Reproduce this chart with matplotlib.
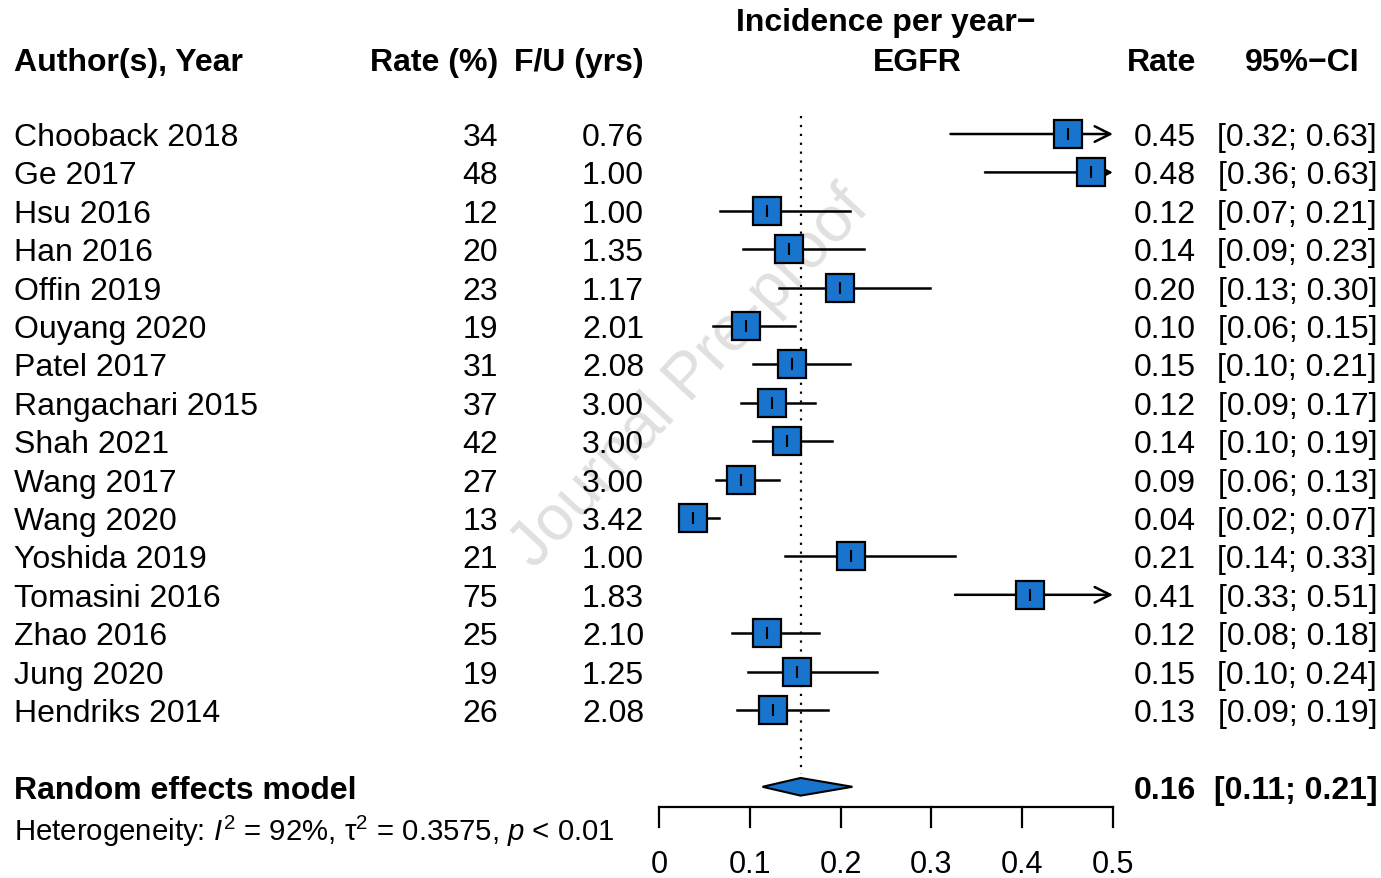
import matplotlib
matplotlib.use("Agg")
import matplotlib.pyplot as plt
import matplotlib.transforms as mtransforms

plt.rcParams['font.family'] = 'Liberation Sans'
plt.rcParams['mathtext.fontset'] = 'custom'
plt.rcParams['mathtext.rm'] = 'Liberation Sans'
plt.rcParams['mathtext.it'] = 'Liberation Sans:italic'

# study data
studies = ['Chooback 2018', 'Ge 2017', 'Hsu 2016', 'Han 2016', 'Offin 2019',
           'Ouyang 2020', 'Patel 2017', 'Rangachari 2015', 'Shah 2021',
           'Wang 2017', 'Wang 2020', 'Yoshida 2019', 'Tomasini 2016',
           'Zhao 2016', 'Jung 2020', 'Hendriks 2014']
rate_pct = [34, 48, 12, 20, 23, 19, 31, 37, 42, 27, 13, 21, 75, 25, 19, 26]
followup = [0.76, 1.00, 1.00, 1.35, 1.17, 2.01, 2.08, 3.00, 3.00, 3.00,
            3.42, 1.00, 1.83, 2.10, 1.25, 2.08]
rate = [0.450, 0.476, 0.119, 0.143, 0.199, 0.096, 0.147, 0.124, 0.141, 0.090,
        0.037, 0.211, 0.409, 0.119, 0.152, 0.126]
ci_low = [0.321, 0.359, 0.067, 0.092, 0.132, 0.060, 0.103, 0.090, 0.104, 0.063,
          0.022, 0.139, 0.326, 0.080, 0.098, 0.086]
ci_up = [0.63, 0.63, 0.21, 0.226, 0.298, 0.15, 0.21, 0.172, 0.19, 0.132,
         0.066, 0.326, 0.51, 0.176, 0.24, 0.186]

pooled = 0.156
pooled_low = 0.114
pooled_up = 0.213
het_text = r'Heterogeneity: $I^2$ = 92%, τ$^2$ = 0.3575, $p$ < 0.01'

xticks = [0, 0.1, 0.2, 0.3, 0.4, 0.5]
xmax = 0.5

box_col = '#1874CD'
fs = 23
dy = 0.08  # text sits a little low in the R output

W, H = 1381, 879
fig = plt.figure(figsize=(W / 100, H / 100), dpi=100)
# forest panel; y runs in row units over the whole figure height
ax = fig.add_axes([659 / W, 0, 454 / W, 1])
ax.set_xlim(0, xmax)
ax.set_ylim(19.375, -3.516)
ax.axis('off')

# column positions in figure fraction, y in row units
tr = mtransforms.blended_transform_factory(fig.transFigure, ax.transData)
x_author = 14 / W
x_pct = 498 / W
x_fu = 644 / W
x_rate = 1196 / W
x_ci = 1377 / W

# watermark
fig.text(690 / W, 1 - 378 / H, 'Journal Pre-proof', rotation=47, fontsize=46,
         color='#e0e0e0', ha='center', va='center', zorder=-5)

# headers
hy = -1.95 + dy
ax.text(x_author, hy, 'Author(s), Year', transform=tr, ha='left', va='center', fontsize=fs, fontweight='bold')
ax.text(x_pct, hy, 'Rate (%)', transform=tr, ha='right', va='center', fontsize=fs, fontweight='bold')
ax.text(x_fu, hy, 'F/U (yrs)', transform=tr, ha='right', va='center', fontsize=fs, fontweight='bold')
ax.text(886 / W, -3.0 + dy, 'Incidence per year\u2212', transform=tr, ha='center', va='center', fontsize=fs, fontweight='bold')
ax.text(917 / W, hy, 'EGFR', transform=tr, ha='center', va='center', fontsize=fs, fontweight='bold')
ax.text(x_rate, hy, 'Rate', transform=tr, ha='right', va='center', fontsize=fs, fontweight='bold')
ax.text(1360 / W, hy, '95%\u2212CI', transform=tr, ha='right', va='center', fontsize=fs, fontweight='bold')

for i in range(len(studies)):
    ty = i + dy
    ax.text(x_author, ty, studies[i], transform=tr, ha='left', va='center', fontsize=fs)
    ax.text(x_pct, ty, str(rate_pct[i]), transform=tr, ha='right', va='center', fontsize=fs)
    ax.text(x_fu, ty, '%.2f' % followup[i], transform=tr, ha='right', va='center', fontsize=fs)
    ax.text(x_rate, ty, '%.2f' % rate[i], transform=tr, ha='right', va='center', fontsize=fs)
    ax.text(x_ci, ty, '[%.2f; %.2f]' % (ci_low[i], ci_up[i]), transform=tr, ha='right', va='center', fontsize=fs)

    if ci_up[i] > xmax:
        ax.annotate('', xy=(xmax, i), xytext=(ci_low[i], i),
                    arrowprops=dict(arrowstyle='->', lw=1.8, color='k', mutation_scale=28,
                                    shrinkA=0, shrinkB=0), zorder=2)
    else:
        ax.plot([ci_low[i], ci_up[i]], [i, i], color='k', lw=1.8, zorder=2)
    ax.plot(rate[i], i, marker='s', markersize=20.5, markerfacecolor=box_col,
            markeredgecolor='k', markeredgewidth=1.6, zorder=3)
    ax.plot(rate[i], i, marker='|', markersize=9, color='k', markeredgewidth=1.5, zorder=4)

# pooled estimate
ry = 17.0
ax.text(x_author, ry + dy, 'Random effects model', transform=tr, ha='left', va='center', fontsize=fs, fontweight='bold')
ax.text(x_rate, ry + dy, '%.2f' % pooled, transform=tr, ha='right', va='center', fontsize=fs, fontweight='bold')
ax.text(x_ci, ry + dy, '[%.2f; %.2f]' % (pooled_low, pooled_up), transform=tr, ha='right', va='center',
        fontsize=fs, fontweight='bold')
ax.fill([pooled_low, pooled, pooled_up, pooled], [ry, ry - 0.23, ry, ry + 0.23],
        facecolor=box_col, edgecolor='k', lw=1.5, zorder=3)
ax.text(x_author, 18.05 + dy, het_text, transform=tr, ha='left', va='center', fontsize=21.2)

# reference line at pooled estimate
ax.plot([pooled, pooled], [-0.47, 16.67], color='k', lw=1.6, ls=(0, (1, 3)), zorder=1)

# x axis drawn by hand like the R forest plot
ay = 17.53
ax.plot([0, xmax], [ay, ay], color='k', lw=1.6, clip_on=False)
for t in xticks:
    ax.plot([t, t], [ay, 18.05], color='k', lw=1.6, clip_on=False)
    ax.text(t, 19.02, '%g' % t, ha='center', va='center', fontsize=22)

fig.savefig('out.png', dpi=100)
